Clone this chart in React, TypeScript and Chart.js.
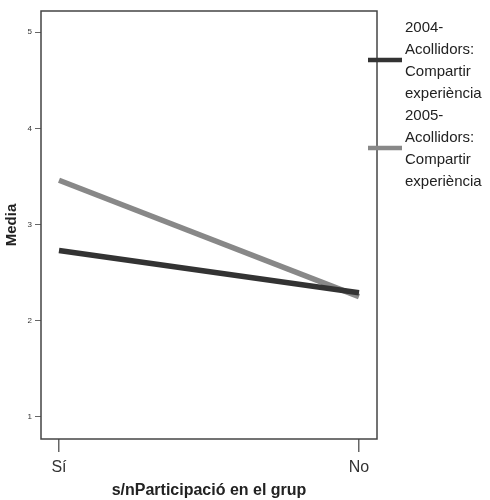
import React, { useEffect, useRef } from "react";
import { Chart, registerables } from "chart.js";

Chart.register(...registerables);

const categories = ["Sí", "No"];
const series2004 = [2.73, 2.29];
const series2005 = [3.46, 2.25];
const legend2004 = ["2004-", "Acollidors:", "Compartir", "experiència"];
const legend2005 = ["2005-", "Acollidors:", "Compartir", "experiència"];
const yTicks = [1, 2, 3, 4, 5];

const COLOR_2004 = "#333333";
const COLOR_2005 = "#888888";
const FONT = "'Liberation Sans', Arial, sans-serif";

const framePlugin = {
  id: "frameLegend",
  afterDraw(chart: any) {
    const { ctx, chartArea } = chart;
    const { left, right, top, bottom } = chartArea;
    ctx.save();
    ctx.strokeStyle = "#444";
    ctx.lineWidth = 1.5;
    ctx.strokeRect(left, top, right - left, bottom - top);

    const items = [
      { lines: legend2004, color: COLOR_2004, markY: 60 },
      { lines: legend2005, color: COLOR_2005, markY: 148 },
    ];
    ctx.font = `15px ${FONT}`;
    ctx.fillStyle = "#222";
    ctx.textBaseline = "middle";
    ctx.textAlign = "left";
    items.forEach((it) => {
      ctx.strokeStyle = it.color;
      ctx.lineWidth = 4.5;
      ctx.beginPath();
      ctx.moveTo(right - 9, it.markY);
      ctx.lineTo(right + 25, it.markY);
      ctx.stroke();
      const n = it.lines.length;
      it.lines.forEach((ln, i) => {
        ctx.fillText(ln, right + 28, it.markY + 1 + (i - (n - 1) / 2) * 22);
      });
    });
    ctx.restore();
  },
};

export default function App() {
  const ref = useRef<HTMLCanvasElement>(null);
  useEffect(() => {
    if (!ref.current) return;
    const toPts = (arr: number[]) => arr.map((v, i) => ({ x: i, y: v }));
    const chart = new Chart(ref.current, {
      type: "line",
      data: {
        datasets: [
          {
            label: legend2004.join(" "),
            data: toPts(series2004),
            borderColor: COLOR_2004,
            borderWidth: 5.5,
            pointRadius: 0,
            fill: false,
          },
          {
            label: legend2005.join(" "),
            data: toPts(series2005),
            borderColor: COLOR_2005,
            borderWidth: 5.5,
            pointRadius: 0,
            fill: false,
          },
        ],
      },
      options: {
        animation: false,
        responsive: false,
        layout: { padding: { left: 0, top: 11, right: 113, bottom: 0 } },
        plugins: { legend: { display: false }, tooltip: { enabled: false } },
        scales: {
          x: {
            type: "linear",
            min: -0.06,
            max: 1.06,
            afterFit: (s: any) => {
              s.height = 61;
            },
            afterBuildTicks: (s: any) => {
              s.ticks = categories.map((_, i) => ({ value: i }));
            },
            ticks: {
              includeBounds: false,
              callback: (v: any) => categories[v] ?? "",
              font: { family: FONT, size: 16 },
              color: "#333",
              padding: 6,
              maxRotation: 0,
            },
            grid: {
              drawOnChartArea: false,
              drawTicks: true,
              tickLength: 13,
              color: "#666",
              lineWidth: 1.5,
            },
            border: { display: false },
            title: {
              display: true,
              text: "s/nParticipació en el grup",
              font: { family: FONT, size: 16, weight: "bold" },
              color: "#222",
              padding: { top: 0, bottom: 0 },
            },
          },
          y: {
            type: "linear",
            min: 0.77,
            max: 5.22,
            afterFit: (s: any) => {
              s.width = 41;
            },
            afterBuildTicks: (s: any) => {
              s.ticks = yTicks.map((v) => ({ value: v }));
            },
            ticks: {
              includeBounds: false,
              font: { family: FONT, size: 8 },
              color: "#333",
              padding: 3,
            },
            grid: {
              drawOnChartArea: false,
              drawTicks: true,
              tickLength: 6,
              color: "#666",
              lineWidth: 1,
            },
            border: { display: false },
            title: {
              display: true,
              text: "Media",
              font: { family: FONT, size: 15, weight: "bold" },
              color: "#222",
              padding: { top: 3, bottom: 0 },
            },
          },
        },
      } as any,
      plugins: [framePlugin],
    });
    return () => chart.destroy();
  }, []);
  return (
    <div style={{ position: "absolute", left: 0, top: 0, width: 490, height: 500 }}>
      <canvas ref={ref} width={490} height={500} />
    </div>
  );
}
